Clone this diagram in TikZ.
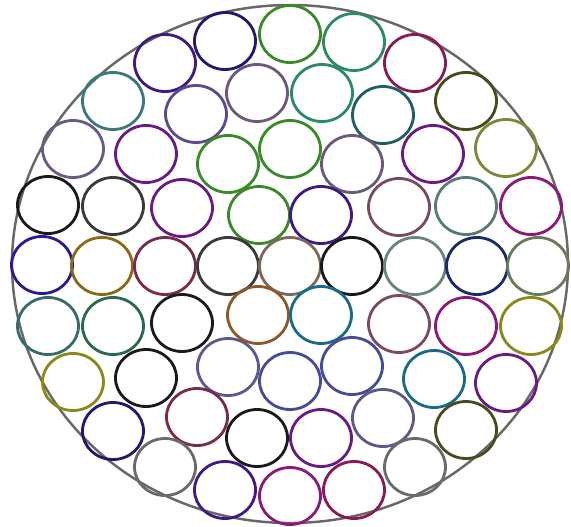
\documentclass[tikz,border=0pt]{standalone}
\usepackage{tikz}

\definecolor{rim}{HTML}{686868}
\definecolor{navy}{HTML}{1F1A6E}
\definecolor{grn}{HTML}{3A8A2A}
\definecolor{seagrn}{HTML}{2E8A60}
\definecolor{indig}{HTML}{3F1A85}
\definecolor{plum}{HTML}{8A1A55}
\definecolor{tealc}{HTML}{3A7A7A}
\definecolor{slatep}{HTML}{5A4A90}
\definecolor{grayp}{HTML}{6A5A75}
\definecolor{tealg}{HTML}{2A8A6A}
\definecolor{dteal}{HTML}{1F6060}
\definecolor{dolive}{HTML}{4A4A20}
\definecolor{grayv}{HTML}{6A5A85}
\definecolor{purp}{HTML}{6A1A85}
\definecolor{olivec}{HTML}{7A8A3A}
\definecolor{blk}{HTML}{1A1A1A}
\definecolor{dgray}{HTML}{3A3A3A}
\definecolor{mauve}{HTML}{7A4A65}
\definecolor{grayt}{HTML}{5A7A78}
\definecolor{mag}{HTML}{8A1A75}
\definecolor{bluec}{HTML}{2A1A95}
\definecolor{gold}{HTML}{8A6A1A}
\definecolor{maroon}{HTML}{7A2A4A}
\definecolor{grayb}{HTML}{7A6A5A}
\definecolor{grayg}{HTML}{6A857A}
\definecolor{navyb}{HTML}{1A2A6A}
\definecolor{grayo}{HTML}{6A7A5A}
\definecolor{tealgr}{HTML}{3A6A6A}
\definecolor{dgreen}{HTML}{2A6A4A}
\definecolor{brownc}{HTML}{8A5A2A}
\definecolor{tealb}{HTML}{1A6A8A}
\definecolor{olivey}{HTML}{8A8A1A}
\definecolor{slate}{HTML}{5A5A8A}
\definecolor{slateb}{HTML}{4A4A9A}
\definecolor{grayc}{HTML}{6A6A6A}

\begin{document}
\begin{tikzpicture}[x=0.02cm, y=-0.02cm]
	\useasboundingbox (0,0) rectangle (571,527);
	
	% vòng tròn lớn bao ngoài
	\draw[rim, line width=1.4pt] (290,264) ellipse [x radius=278, y radius=259];
	
	% các vòng tròn nhỏ: x/y/màu
	\foreach \x/\y/\c in {225/41/navy, 290/34/grn, 354/42/seagrn, 165/63/indig, 415/63/plum,
		113/101/tealc, 196/114/slatep, 257/93/grayp, 322/93/tealg, 383/115/dteal, 466/101/dolive,
		73/149/grayv, 146/154/purp, 228/164/grn, 290/149/grn, 352/164/grayp, 433/154/purp, 506/148/olivec,
		48/205/blk, 113/206/dgray, 182/208/purp, 259/215/grn, 321/215/indig, 399/207/mauve, 466/206/grayt, 531/206/mag,
		42/265/bluec, 102/266/gold, 165/266/maroon, 228/266/dgray, 290/266/grayb, 352/266/blk, 415/266/grayg, 477/266/navyb, 538/266/grayo,
		48/326/tealgr, 113/326/dgreen, 182/323/blk, 258/315/brownc, 321/315/tealb, 399/324/mauve, 466/326/mag, 531/326/olivey,
		73/382/olivey, 146/378/blk, 228/367/slate, 290/381/slateb, 352/366/slateb, 434/379/tealb, 506/383/purp,
		113/431/navy, 197/417/maroon, 257/438/blk, 321/438/purp, 383/418/slate, 466/430/dolive,
		165/467/grayc, 225/490/indig, 290/496/mag, 354/490/plum, 415/467/grayc}
		\draw[\c, line width=1.6pt] (\x,\y) ellipse [x radius=30.5, y radius=28.5];
\end{tikzpicture}
\end{document}
